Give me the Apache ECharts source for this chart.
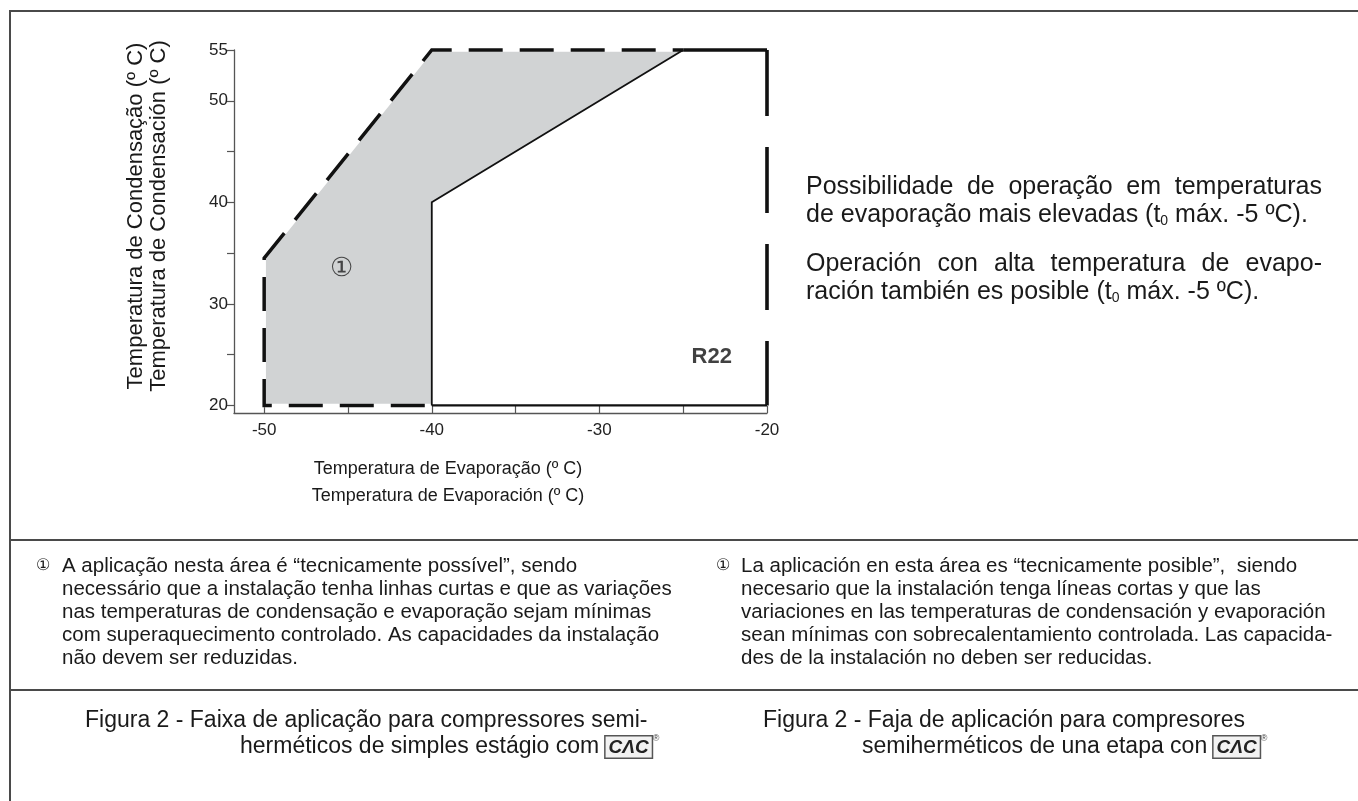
<!DOCTYPE html>
<html>
<head>
<meta charset="utf-8">
<script src="https://cdn.jsdelivr.net/npm/echarts@6/dist/echarts.min.js"></script>
<style>
html,body{margin:0;padding:0;background:#fff;}
#chart{width:1358px;height:801px;}
</style>
</head>
<body>
<div id="chart"></div>
<script>
// ---- data ----
const xTicks = [-50, -45, -40, -35, -30, -25, -20];
const xLabels = [-50, -40, -30, -20];
const yTicks = [20, 25, 30, 35, 40, 45, 50, 55];
const yLabels = [20, 30, 40, 50, 55];
const grayArea = [[-50, 20], [-50, 34.5], [-40, 55], [-25, 55], [-40, 40], [-40, 20]];
const dashedBoundary = [[-40, 20], [-50, 20], [-50, 34.5], [-40, 55], [-25, 55]];
const innerBoundary = [[-40, 20], [-40, 40], [-25, 55]];
const bottomBoundary = [[-40, 20], [-20, 20]];
const topBoundary = [[-25, 55], [-20, 55]];
const rightBoundary = [[-20, 55], [-20, 20]];
const areaLabel = [[-45.4, 33.4, '①']];
const refrigerantLabel = [[-23.3, 24.8, 'R22']];

const yTitle = ['Temperatura de Condensação (º C)', 'Temperatura de Condensación (º C)'];
const xTitle = ['Temperatura de Evaporação (º C)', 'Temperatura de Evaporación (º C)'];
const sideNotePt = ['Possibilidade de operação em temperaturas', 'de evaporação mais elevadas (t{s|0} máx. -5 ºC).'];
const sideNoteEs = ['Operación con alta temperatura de evapo-', 'ración también es posible (t{s|0} máx. -5 ºC).'];
const notePt = [
  'A aplicação nesta área é “tecnicamente possível”, sendo',
  'necessário que a instalação tenha linhas curtas e que as variações',
  'nas temperaturas de condensação e evaporação sejam mínimas',
  'com superaquecimento controlado. As capacidades da instalação',
  'não devem ser reduzidas.'
];
const noteEs = [
  'La aplicación en esta área es “tecnicamente posible”,  siendo',
  'necesario que la instalación tenga líneas cortas y que las',
  'variaciones en las temperaturas de condensación y evaporación',
  'sean mínimas con sobrecalentamiento controlada. Las capacida-',
  'des de la instalación no deben ser reducidas.'
];
const captionPt = ['Figura 2 - Faixa de aplicação para compressores semi-', 'herméticos de simples estágio com '];
const captionEs = ['Figura 2 - Faja de aplicación para compresores', 'semiherméticos de una etapa con '];

// ---- rendering ----
const FF = '"Liberation Sans", Arial, Helvetica, sans-serif';
const TXT = '#1a1a1a';
const chart = echarts.init(document.getElementById('chart'), null, {renderer: 'canvas'});

const mctx = document.createElement('canvas').getContext('2d');
function justifyLine(text, x0, width, y, size) {
  mctx.font = size + 'px ' + FF;
  const words = text.split(' ');
  const ws = words.map(w => mctx.measureText(w).width);
  const total = ws.reduce((a, b) => a + b, 0);
  const gap = (width - total) / (words.length - 1);
  const els = [];
  let x = x0;
  words.forEach((w, i) => {
    els.push({type: 'text', x: x, y: y, style: {text: w, fontSize: size, fontFamily: FF, fill: TXT, textVerticalAlign: 'middle'}});
    x += ws[i] + gap;
  });
  return els;
}
function plain(text, x, y, size, extra) {
  return {type: 'text', x: x, y: y, style: Object.assign({text: text, fontSize: size, fontFamily: FF, fill: TXT, textVerticalAlign: 'middle'}, extra || {})};
}
const subRich = {s: {fontSize: 14, fontFamily: FF, fill: TXT, padding: [12, 0, 0, 0]}};
const logoRich = {
  lg: {fontSize: 19, fontWeight: 'bold', fontStyle: 'italic', fontFamily: FF, fill: '#222', borderColor: '#555', borderWidth: 1.5, backgroundColor: '#f2f2f2', padding: [2, 3, 0, 3]},
  rg: {fontSize: 9, fontFamily: FF, fill: '#444', padding: [0, 0, 16, 1]}
};

const graphics = [];
// frame
const frame = {stroke: '#4a4a4a', lineWidth: 2};
graphics.push({type: 'line', shape: {x1: 10, y1: 11, x2: 1358, y2: 11}, style: frame});
graphics.push({type: 'line', shape: {x1: 10, y1: 10, x2: 10, y2: 801}, style: frame});
graphics.push({type: 'line', shape: {x1: 10, y1: 540, x2: 1358, y2: 540}, style: frame});
graphics.push({type: 'line', shape: {x1: 10, y1: 690, x2: 1358, y2: 690}, style: frame});
// axis titles
graphics.push({type: 'text', x: 136, y: 216, rotation: Math.PI / 2, style: {text: yTitle[0], fontSize: 22, fontFamily: FF, fill: TXT, textAlign: 'center', textVerticalAlign: 'middle'}});
graphics.push({type: 'text', x: 159, y: 216, rotation: Math.PI / 2, style: {text: yTitle[1], fontSize: 22, fontFamily: FF, fill: TXT, textAlign: 'center', textVerticalAlign: 'middle'}});
graphics.push(plain(xTitle[0], 448, 469, 18, {textAlign: 'center'}));
graphics.push(plain(xTitle[1], 448, 496, 18, {textAlign: 'center'}));
// side notes
graphics.push(...justifyLine(sideNotePt[0], 806, 516, 187, 25));
graphics.push(plain(sideNotePt[1], 806, 215, 25, {rich: subRich}));
graphics.push(...justifyLine(sideNoteEs[0], 806, 516, 264, 25));
graphics.push(plain(sideNoteEs[1], 806, 292, 25, {rich: subRich}));
// footnotes
graphics.push(plain('①', 43, 566, 16, {textAlign: 'center'}));
notePt.forEach((t, i) => graphics.push(plain(t, 62, 566 + i * 23, 20.5)));
graphics.push(plain('①', 723, 566, 16, {textAlign: 'center'}));
noteEs.forEach((t, i) => graphics.push(plain(t, 741, 566 + i * 23, 20.5)));
// captions
graphics.push(plain(captionPt[0], 85, 721, 23));
graphics.push(plain(captionPt[1] + '{lg|CΛC}{rg|®}', 240, 747, 23, {rich: logoRich}));
graphics.push(plain(captionEs[0], 763, 721, 23));
graphics.push(plain(captionEs[1] + '{lg|CΛC}{rg|®}', 862, 747, 23, {rich: logoRich}));

function lineSeries(data, style, z) {
  return {type: 'line', data: data, symbol: 'none', clip: false, silent: true, z: z,
    lineStyle: Object.assign({color: '#111', cap: 'butt', join: 'miter'}, style), emphasis: {disabled: true}};
}

const option = {
  animation: false,
  backgroundColor: '#fff',
  grid: {left: 234, right: 591, top: 50, bottom: 388, containLabel: false},
  xAxis: {
    type: 'value', min: -51.8, max: -20,
    axisLine: {show: true, onZero: false, lineStyle: {color: '#555', width: 1.3}},
    axisTick: {show: true, inside: true, length: 7, customValues: xTicks, lineStyle: {color: '#555', width: 1.2}},
    axisLabel: {customValues: xLabels, margin: 9, fontSize: 17, fontFamily: FF, color: '#222'},
    splitLine: {show: false}
  },
  yAxis: {
    type: 'value', min: 19.25, max: 55,
    axisLine: {show: true, onZero: false, lineStyle: {color: '#555', width: 1.3}},
    axisTick: {show: true, inside: false, length: 7, customValues: yTicks, lineStyle: {color: '#555', width: 1.2}},
    axisLabel: {customValues: yLabels, margin: 6, fontSize: 17, fontFamily: FF, color: '#222'},
    splitLine: {show: false}
  },
  graphic: graphics,
  series: [
    {
      type: 'custom', silent: true, z: 1,
      data: [[-45, 30]],
      encode: {x: 0, y: 1},
      renderItem: function (params, api) {
        const pts = grayArea.map(p => api.coord(p));
        return {type: 'polygon', shape: {points: pts}, style: {fill: '#d1d3d4', stroke: null}};
      }
    },
    lineSeries(dashedBoundary, {color: '#ffffff', width: 3.5}, 2),
    lineSeries(dashedBoundary, {width: 3.5, type: [34, 17], dashOffset: 44}, 3),
    lineSeries(innerBoundary, {width: 1.8}, 3),
    lineSeries(bottomBoundary, {width: 2.2}, 3),
    lineSeries(topBoundary, {width: 3.6}, 3),
    lineSeries(rightBoundary, {width: 3.6, type: [66, 31], dashOffset: 0}, 3),
    {
      type: 'scatter', data: areaLabel, symbolSize: 1, itemStyle: {color: 'rgba(0,0,0,0)'}, silent: true, z: 4,
      label: {show: true, position: 'inside', formatter: p => p.data[2], fontSize: 26, fontFamily: FF, color: '#222'}
    },
    {
      type: 'scatter', data: refrigerantLabel, symbolSize: 1, itemStyle: {color: 'rgba(0,0,0,0)'}, silent: true, z: 4,
      label: {show: true, position: 'inside', formatter: p => p.data[2], fontSize: 22, fontWeight: 'bold', fontFamily: FF, color: '#111'}
    }
  ]
};
chart.setOption(option);
</script>
</body>
</html>
